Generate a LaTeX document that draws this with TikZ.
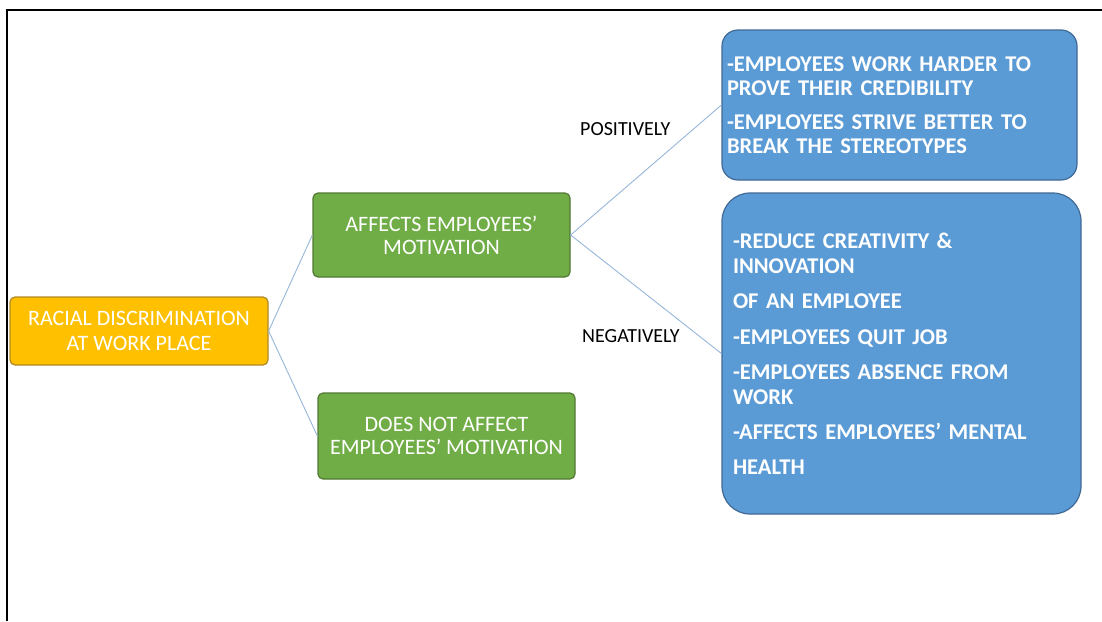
\documentclass[tikz,border=0pt]{standalone}
\usepackage{fontspec}
\setmainfont{Carlito}
\definecolor{goldfill}{RGB}{255,192,0}
\definecolor{goldline}{RGB}{176,136,40}
\definecolor{greenfill}{RGB}{112,173,71}
\definecolor{greenline}{RGB}{80,122,52}
\definecolor{bluefill}{RGB}{91,155,213}
\definecolor{blueline}{RGB}{65,105,150}
\definecolor{linkcol}{RGB}{150,182,218}
\tikzset{
  rootbox/.style={draw=goldline, fill=goldfill, line width=1.2pt, rounded corners=5pt,
    text=white, align=center, inner sep=0pt, minimum width=258pt, minimum height=68pt,
    font=\fontsize{22}{25}\selectfont},
  midbox/.style={draw=greenline, fill=greenfill, line width=1.2pt, rounded corners=5pt,
    text=white, align=center, inner sep=0pt, minimum width=257pt,
    font=\fontsize{22}{23}\selectfont},
  leafbox/.style={draw=blueline, fill=bluefill, line width=1.2pt,
    text=white, align=left, inner sep=0pt,
    font=\bfseries\fontsize{22.5}{24.5}\selectfont},
  link/.style={draw=linkcol, line width=0.9pt},
  branchlabel/.style={anchor=west, inner sep=0pt, font=\fontsize{20}{22}\selectfont}
}
\begin{document}
\begin{tikzpicture}[x=1pt,y=-1pt]
\useasboundingbox (0,0) rectangle (1102,621);
% page frame
\draw[line width=1.5pt] (7,621) -- (7,10) -- (1102,10);

% boxes
\node[rootbox] (root) at (139,331) {RACIAL DISCRIMINATION\\AT WORK PLACE};
\node[midbox, minimum height=84pt] (aff) at (441.5,235) {AFFECTS EMPLOYEES'\\MOTIVATION};
\node[midbox, minimum height=86pt] (noaff) at (446.5,436) {DOES NOT AFFECT\\EMPLOYEES' MOTIVATION};

\node[leafbox, rounded corners=16pt, minimum width=355pt, minimum height=150pt,
      text width=345pt] (pos) at (899.5,105)
  {-EMPLOYEES WORK HARDER TO\\PROVE THEIR CREDIBILITY\\[9pt]
   -EMPLOYEES STRIVE BETTER TO\\BREAK THE STEREOTYPES};
\node[leafbox, rounded corners=28pt, minimum width=359pt, minimum height=321pt,
      text width=337pt] (neg) at (901.5,353.5)
  {-REDUCE CREATIVITY \&\\INNOVATION\\[11pt]
   OF AN EMPLOYEE\\[11pt]
   -EMPLOYEES QUIT JOB\\[11pt]
   -EMPLOYEES ABSENCE FROM\\WORK\\[11pt]
   -AFFECTS EMPLOYEES' MENTAL\\[10pt]
   HEALTH};

% connectors
\draw[link] (root.east) -- (aff.west);
\draw[link] (root.east) -- (noaff.west);
\draw[link] (aff.east) -- (pos.west);
\draw[link] (aff.east) -- (neg.west);

% branch labels
\node[branchlabel] (poslabel) at (580,129) {POSITIVELY};
\node[branchlabel] (neglabel) at (582,336) {NEGATIVELY};
\end{tikzpicture}
\end{document}
